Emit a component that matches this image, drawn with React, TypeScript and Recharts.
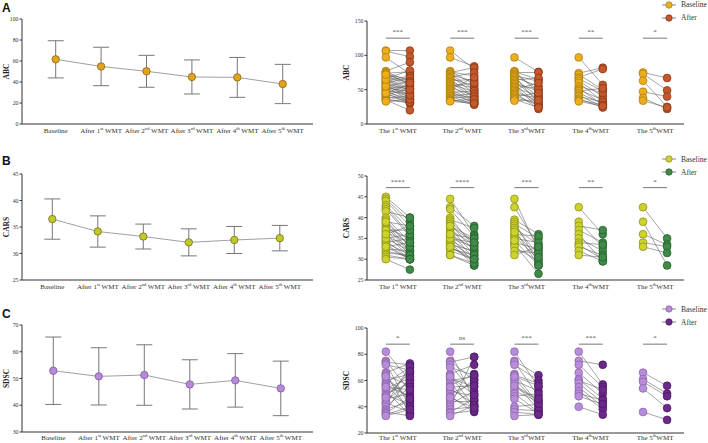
import React from 'react';
import { ComposedChart, Line, Scatter, XAxis, YAxis, ErrorBar, ReferenceLine, Legend } from 'recharts';

const SERIF = '"Liberation Serif", "Times New Roman", Times, serif';
const SANS = '"Liberation Sans", Arial, sans-serif';

// ---------- tick labels ----------
const leftPre = ['Baseline', 'After 1', 'After 2', 'After 3', 'After 4', 'After 5'];
const leftSup = ['', 'st', 'nd', 'rd', 'th', 'th'];
const leftPost = ['', ' WMT', ' WMT', ' WMT', ' WMT', ' WMT'];
const rightPre = ['The 1', 'The 2', 'The 3', 'The 4', 'The 5'];
const rightSup = ['st', 'nd', 'rd', 'th', 'th'];
const rightPost = [' WMT', ' WMT', 'WMT', 'WMT', 'WMT'];

// ---------- left panels: mean ± SD ----------
const abcMean = [61.6, 54.8, 50.2, 44.8, 44.4, 38.1];
const abcSd = [17.7, 18.3, 15.2, 16.2, 19.0, 18.7];
const carsMean = [36.5, 34.15, 33.2, 32.1, 32.55, 32.9];
const carsSd = [3.8, 2.95, 2.35, 2.55, 2.55, 2.4];
const sdscMean = [52.9, 50.8, 51.3, 47.8, 49.3, 46.3];
const sdscSd = [12.6, 10.7, 11.3, 9.2, 10.0, 10.2];

// ---------- right panels: paired values ----------
const abcBase1 = [107, 106, 97, 77, 76, 75, 74, 72, 70, 69, 67, 66, 64, 63, 62, 60, 59, 58, 57, 55, 54, 53, 52, 50, 49, 48, 46, 45, 43, 42, 40, 38, 37, 35, 34, 33, 45, 55, 65, 72];
const abcAfter1 = [107, 98, 73, 90, 62, 57, 76, 65, 55, 60, 52, 78, 48, 70, 45, 67, 42, 50, 38, 62, 35, 47, 55, 40, 32, 44, 37, 30, 35, 52, 33, 40, 30, 20, 32, 36, 58, 42, 50, 60];
const abcBase2 = [107, 97, 77, 76, 75, 73, 72, 70, 68, 67, 65, 63, 61, 60, 58, 56, 55, 53, 51, 50, 48, 46, 45, 43, 41, 40, 38, 36, 35, 34, 33];
const abcAfter2 = [80, 84, 58, 70, 82, 50, 62, 45, 75, 55, 40, 65, 38, 52, 47, 35, 60, 42, 33, 68, 30, 48, 37, 32, 44, 29, 40, 28, 31, 36, 30];
const abcBase3 = [97, 77, 76, 75, 73, 71, 70, 68, 66, 64, 62, 60, 58, 56, 54, 52, 50, 48, 46, 44, 42, 40, 38, 36, 34];
const abcAfter3 = [76, 45, 65, 75, 50, 62, 30, 55, 40, 67, 35, 48, 28, 52, 25, 42, 60, 33, 22, 38, 27, 45, 30, 24, 35];
const abcBase4 = [97, 74, 72, 68, 66, 63, 60, 55, 52, 50, 48, 45, 42, 40, 37, 35, 33];
const abcAfter4 = [57, 82, 50, 80, 48, 40, 33, 45, 28, 35, 52, 30, 25, 32, 24, 28, 26];
const abcBase5 = [75, 73, 63, 47, 38, 34];
const abcAfter5 = [67, 49, 25, 40, 22, 24];

const carsBase1 = [45, 44.5, 44, 43, 42.5, 42, 41.5, 40, 39.5, 39, 38.5, 38, 37.5, 37, 36.5, 36, 35.5, 35, 34.5, 34, 34, 33.5, 33, 32.5, 32, 31.5, 31, 30.5, 30, 35, 37, 39, 33, 36];
const carsAfter1 = [40, 39, 38, 37, 36, 35.5, 40, 34, 33, 38, 32, 31.5, 35, 31, 34, 30.5, 33, 32, 30, 35, 31, 30, 30, 32, 30.5, 31, 30, 30, 27.5, 36, 37, 33, 34, 38];
const carsBase2 = [44.5, 42.5, 42, 40, 39.5, 39, 38.5, 38, 37.5, 37, 36.5, 36, 35.5, 35, 34.5, 34, 34, 33.5, 33, 32.5, 32, 31, 31, 35, 36, 38, 33];
const carsAfter2 = [36, 38, 35.5, 33, 37.5, 34, 32, 35, 31, 33.5, 30, 32.5, 29, 34, 31.5, 28.5, 30.5, 32, 29.5, 31, 30, 28.5, 29, 33, 35, 34, 30];
const carsBase3 = [44.5, 42.5, 39.5, 39, 38.5, 38, 37.5, 37, 36, 35.5, 35, 34, 33.5, 33, 32, 31, 36.5, 34.5];
const carsAfter3 = [32, 33, 36, 29, 35, 31, 33.5, 28.5, 35.5, 30, 34, 32.5, 26.5, 29.5, 31.5, 33, 30.5, 28.5];
const carsBase4 = [42.5, 39, 38, 37, 36, 35, 34, 33.5, 33, 32, 31];
const carsAfter4 = [36, 33, 37, 34, 29.5, 32, 33.5, 30, 31, 29.5, 30.5];
const carsBase5 = [42.5, 39, 36, 34, 33];
const carsAfter5 = [35, 28.5, 33.5, 33, 31.5];

const sdscBase1 = [82, 75, 74, 73, 72, 66, 65, 64, 62, 60, 58, 57, 56, 54, 52, 50, 49, 48, 46, 44, 43, 42, 40, 38, 37, 36, 35, 34, 33, 55, 47, 63];
const sdscAfter1 = [60, 52, 72, 40, 68, 73, 35, 56, 45, 65, 70, 38, 48, 62, 34, 58, 42, 66, 50, 60, 36, 71, 55, 44, 63, 33, 47, 40, 38, 53, 67, 46];
const sdscBase2 = [82, 75, 74, 72, 65, 64, 62, 60, 58, 56, 54, 52, 50, 48, 46, 44, 42, 40, 38, 36, 35, 33, 55, 47, 63, 70];
const sdscAfter2 = [45, 60, 78, 50, 72, 40, 55, 63, 38, 65, 42, 48, 58, 36, 61, 44, 52, 78, 40, 46, 37, 41, 56, 39, 49, 64];
const sdscBase3 = [82, 75, 74, 72, 65, 64, 62, 60, 58, 55, 52, 50, 48, 46, 40, 38, 36, 33, 56, 63];
const sdscAfter3 = [55, 64, 48, 60, 42, 58, 40, 52, 38, 45, 44, 36, 50, 35, 42, 37, 34, 34, 46, 56];
const sdscBase4 = [82, 75, 72, 66, 61, 60, 58, 55, 52, 50, 48, 40];
const sdscAfter4 = [57, 72, 55, 50, 46, 53, 43, 40, 38, 45, 42, 34];
const sdscBase5 = [66, 61, 59, 54, 36];
const sdscAfter5 = [56, 50, 48, 39, 30];

// significance labels
const abcSig = ['***', '***', '***', '**', '*'];
const carsSig = ['****', '****', '***', '**', '*'];
const sdscSig = ['*', 'ns', '***', '***', '*'];

const OFF = 0.187;

function tickLabel(key: string, pre: string, sup: string, post: string, x: number, y: number) {
  return (
    <text key={key} x={x} y={y} textAnchor="middle" fontFamily={SERIF} fontSize={7} fill="#333">
      {pre}
      {sup ? <tspan fontSize={4.6} dy={-2.6}>{sup}</tspan> : null}
      {post ? <tspan dy={sup ? 2.6 : 0}>{post}</tspan> : null}
    </text>
  );
}

const yTickStyle = { fontSize: 5.8, fontFamily: SERIF, fill: '#333' };

function LeftPanel({ cfg }: any) {
  const data = cfg.mean.map((m: number, i: number) => ({ x: i, mean: m, sd: cfg.sd[i] }));
  const h = cfg.plotBottom - cfg.top + 16;
  return (
    <div style={{ position: 'absolute', left: -10, top: cfg.top }}>
      <ComposedChart width={333} height={h} data={data} margin={{ top: cfg.plotTop - cfg.top, right: 10, bottom: 0, left: 0 }}>
        <XAxis
          type="number" dataKey="x" domain={cfg.xDomain} ticks={[0, 1, 2, 3, 4, 5]} interval={0}
          allowDataOverflow height={16} tickLine={false} tickSize={0} tickMargin={0}
          axisLine={{ stroke: '#333', strokeWidth: 1 }}
          tick={(p: any) => {
            const i = Math.round(p.payload.value);
            return tickLabel('t' + i, leftPre[i], leftSup[i], leftPost[i], p.x, p.y + cfg.tickDy);
          }}
        />
        <YAxis
          type="number" domain={cfg.yDomain} ticks={cfg.yTicks} interval={0} allowDataOverflow width={32}
          tickSize={2.5} tickMargin={1} axisLine={{ stroke: '#333', strokeWidth: 1 }} tickLine={{ stroke: '#333' }}
          tick={yTickStyle}
          label={{ value: cfg.title, angle: -90, position: 'center', fontSize: 7.5, fontWeight: 'bold', fontFamily: SERIF, fill: '#222' }}
        />
        <Line dataKey="mean" stroke="#a0a0a0" strokeWidth={1} isAnimationActive={false} activeDot={false}
          dot={{ r: 3.7, fill: cfg.fill, stroke: cfg.stroke, strokeWidth: 0.8 }}>
          <ErrorBar dataKey="sd" width={8} stroke="#777" strokeWidth={1} direction="y" isAnimationActive={false} />
        </Line>
      </ComposedChart>
    </div>
  );
}

function RightPanel({ cfg }: any) {
  const h = cfg.plotBottom - cfg.top + 16;
  const pairs: any[] = [];
  cfg.bases.forEach((arr: number[], g: number) =>
    arr.forEach((v, k) => pairs.push([{ x: g + 1 - OFF, y: v }, { x: g + 1 + OFF, y: cfg.afters[g][k] }]))
  );
  const basePts = cfg.bases.flatMap((arr: number[], g: number) => arr.map((v) => ({ x: g + 1 - OFF, y: v })));
  const afterPts = cfg.afters.flatMap((arr: number[], g: number) => arr.map((v) => ({ x: g + 1 + OFF, y: v })));
  const legend = () => (
    <div style={{ fontFamily: SERIF, fontSize: 7.5, color: '#333', lineHeight: '13px' }}>
      {[['Baseline', cfg.baseFill, cfg.baseStroke], ['After', cfg.afterFill, cfg.afterStroke]].map(([n, f, s]) => (
        <div key={n} style={{ display: 'flex', alignItems: 'center', height: 13 }}>
          <svg width={14} height={8} style={{ marginRight: 5 }}>
            <line x1={0} y1={4} x2={14} y2={4} stroke="#888" strokeWidth={1} />
            <circle cx={7} cy={4} r={3.2} fill={f} stroke={s} strokeWidth={0.7} />
          </svg>
          <span>{n}</span>
        </div>
      ))}
    </div>
  );
  return (
    <div style={{ position: 'absolute', left: 325, top: cfg.top }}>
      <ComposedChart width={383} height={h} margin={{ top: cfg.plotTop - cfg.top, right: 24, bottom: 0, left: 0 }}>
        <XAxis
          type="number" dataKey="x" domain={[0.52, 5.45]} ticks={[1, 2, 3, 4, 5]} interval={0}
          allowDataOverflow height={16} tickLine={false} tickSize={0} tickMargin={0}
          axisLine={{ stroke: '#333', strokeWidth: 1 }}
          tick={(p: any) => {
            const i = Math.round(p.payload.value) - 1;
            return tickLabel('t' + i, rightPre[i], rightSup[i], rightPost[i], p.x, p.y + cfg.tickDy);
          }}
        />
        <YAxis
          type="number" dataKey="y" domain={cfg.yDomain} ticks={cfg.yTicks} interval={0} allowDataOverflow width={42}
          tickSize={2.5} tickMargin={1} axisLine={{ stroke: '#333', strokeWidth: 1 }} tickLine={{ stroke: '#333' }}
          tick={yTickStyle}
          label={{ value: cfg.title, angle: -90, position: 'center', fontSize: 7.5, fontWeight: 'bold', fontFamily: SERIF, fill: '#222' }}
        />
        {pairs.map((d, i) => (
          <Line key={'p' + i} data={d} dataKey="y" stroke="#5a5a5a" strokeWidth={0.55} dot={false} activeDot={false}
            legendType="none" isAnimationActive={false} />
        ))}
        {cfg.sig.map((s: string, g: number) => (
          <ReferenceLine key={'s' + g} segment={[{ x: g + 1 - OFF, y: cfg.sigY }, { x: g + 1 + OFF, y: cfg.sigY }]}
            stroke="#777" strokeWidth={1}
            label={{ value: s, position: 'top', offset: 4, fontSize: 7, fontFamily: SERIF, fill: '#555' }} />
        ))}
        <Scatter name="Baseline" data={basePts} dataKey="y" isAnimationActive={false}
          shape={(p: any) => <circle cx={p.cx} cy={p.cy} r={3.9} fill={cfg.baseFill} stroke={cfg.baseStroke} strokeWidth={0.7} />} />
        <Scatter name="After" data={afterPts} dataKey="y" isAnimationActive={false}
          shape={(p: any) => <circle cx={p.cx} cy={p.cy} r={3.9} fill={cfg.afterFill} stroke={cfg.afterStroke} strokeWidth={0.7} />} />
        <Legend layout="vertical" align="center" verticalAlign="middle" content={legend}
          wrapperStyle={{ top: cfg.legendTop, left: 337, right: 'auto', bottom: 'auto', width: 'auto' }} />
      </ComposedChart>
    </div>
  );
}

const leftA = { title: 'ABC', top: 0, plotTop: 19, plotBottom: 124, tickDy: 8.5, xDomain: [-0.742, 5.667], yDomain: [0, 100], yTicks: [0, 20, 40, 60, 80, 100], mean: abcMean, sd: abcSd, fill: '#E2A41E', stroke: '#8a6410' };
const leftB = { title: 'CARS', top: 145, plotTop: 174, plotBottom: 280, tickDy: 9, xDomain: [-0.666, 5.73], yDomain: [25, 45], yTicks: [25, 30, 35, 40, 45], mean: carsMean, sd: carsSd, fill: '#C3C82A', stroke: '#6f7212' };
const leftC = { title: 'SDSC', top: 290, plotTop: 325, plotBottom: 432, tickDy: 7.5, xDomain: [-0.688, 5.708], yDomain: [30, 70], yTicks: [30, 40, 50, 60, 70], mean: sdscMean, sd: sdscSd, fill: '#B58ADA', stroke: '#7a57a0' };

const rightA = { title: 'ABC', top: 0, plotTop: 21, plotBottom: 124, tickDy: 8.5, yDomain: [0, 150], yTicks: [0, 50, 100, 150], bases: [abcBase1, abcBase2, abcBase3, abcBase4, abcBase5], afters: [abcAfter1, abcAfter2, abcAfter3, abcAfter4, abcAfter5], sig: abcSig, sigY: 125, baseFill: '#EDAE1E', baseStroke: '#A67810', afterFill: '#C4572B', afterStroke: '#7e3414', legendTop: -2 };
const rightB = { title: 'CARS', top: 145, plotTop: 176, plotBottom: 280, tickDy: 9, yDomain: [25, 50], yTicks: [25, 30, 35, 40, 45, 50], bases: [carsBase1, carsBase2, carsBase3, carsBase4, carsBase5], afters: [carsAfter1, carsAfter2, carsAfter3, carsAfter4, carsAfter5], sig: carsSig, sigY: 47.2, baseFill: '#CDD22E', baseStroke: '#878a14', afterFill: '#3E8A46', afterStroke: '#24582b', legendTop: 7.5 };
const rightC = { title: 'SDSC', top: 290, plotTop: 328, plotBottom: 433, tickDy: 7, yDomain: [20, 100], yTicks: [20, 40, 60, 80, 100], bases: [sdscBase1, sdscBase2, sdscBase3, sdscBase4, sdscBase5], afters: [sdscAfter1, sdscAfter2, sdscAfter3, sdscAfter4, sdscAfter5], sig: sdscSig, sigY: 87.7, baseFill: '#B98CD9', baseStroke: '#8660a6', afterFill: '#6B2A8B', afterStroke: '#46175c', legendTop: 12.5 };

const letterStyle: React.CSSProperties = { position: 'absolute', left: 2, fontFamily: SANS, fontWeight: 'bold', fontSize: 12, lineHeight: '12px', color: '#111' };

export default function App() {
  return (
    <div style={{ position: 'absolute', left: 0, top: 0, width: 708, height: 443, background: '#fff', overflow: 'hidden' }}>
      <div style={{ ...letterStyle, top: 1.5 }}>A</div>
      <div style={{ ...letterStyle, top: 155 }}>B</div>
      <div style={{ ...letterStyle, top: 308 }}>C</div>
      <LeftPanel cfg={leftA} />
      <LeftPanel cfg={leftB} />
      <LeftPanel cfg={leftC} />
      <RightPanel cfg={rightA} />
      <RightPanel cfg={rightB} />
      <RightPanel cfg={rightC} />
    </div>
  );
}
